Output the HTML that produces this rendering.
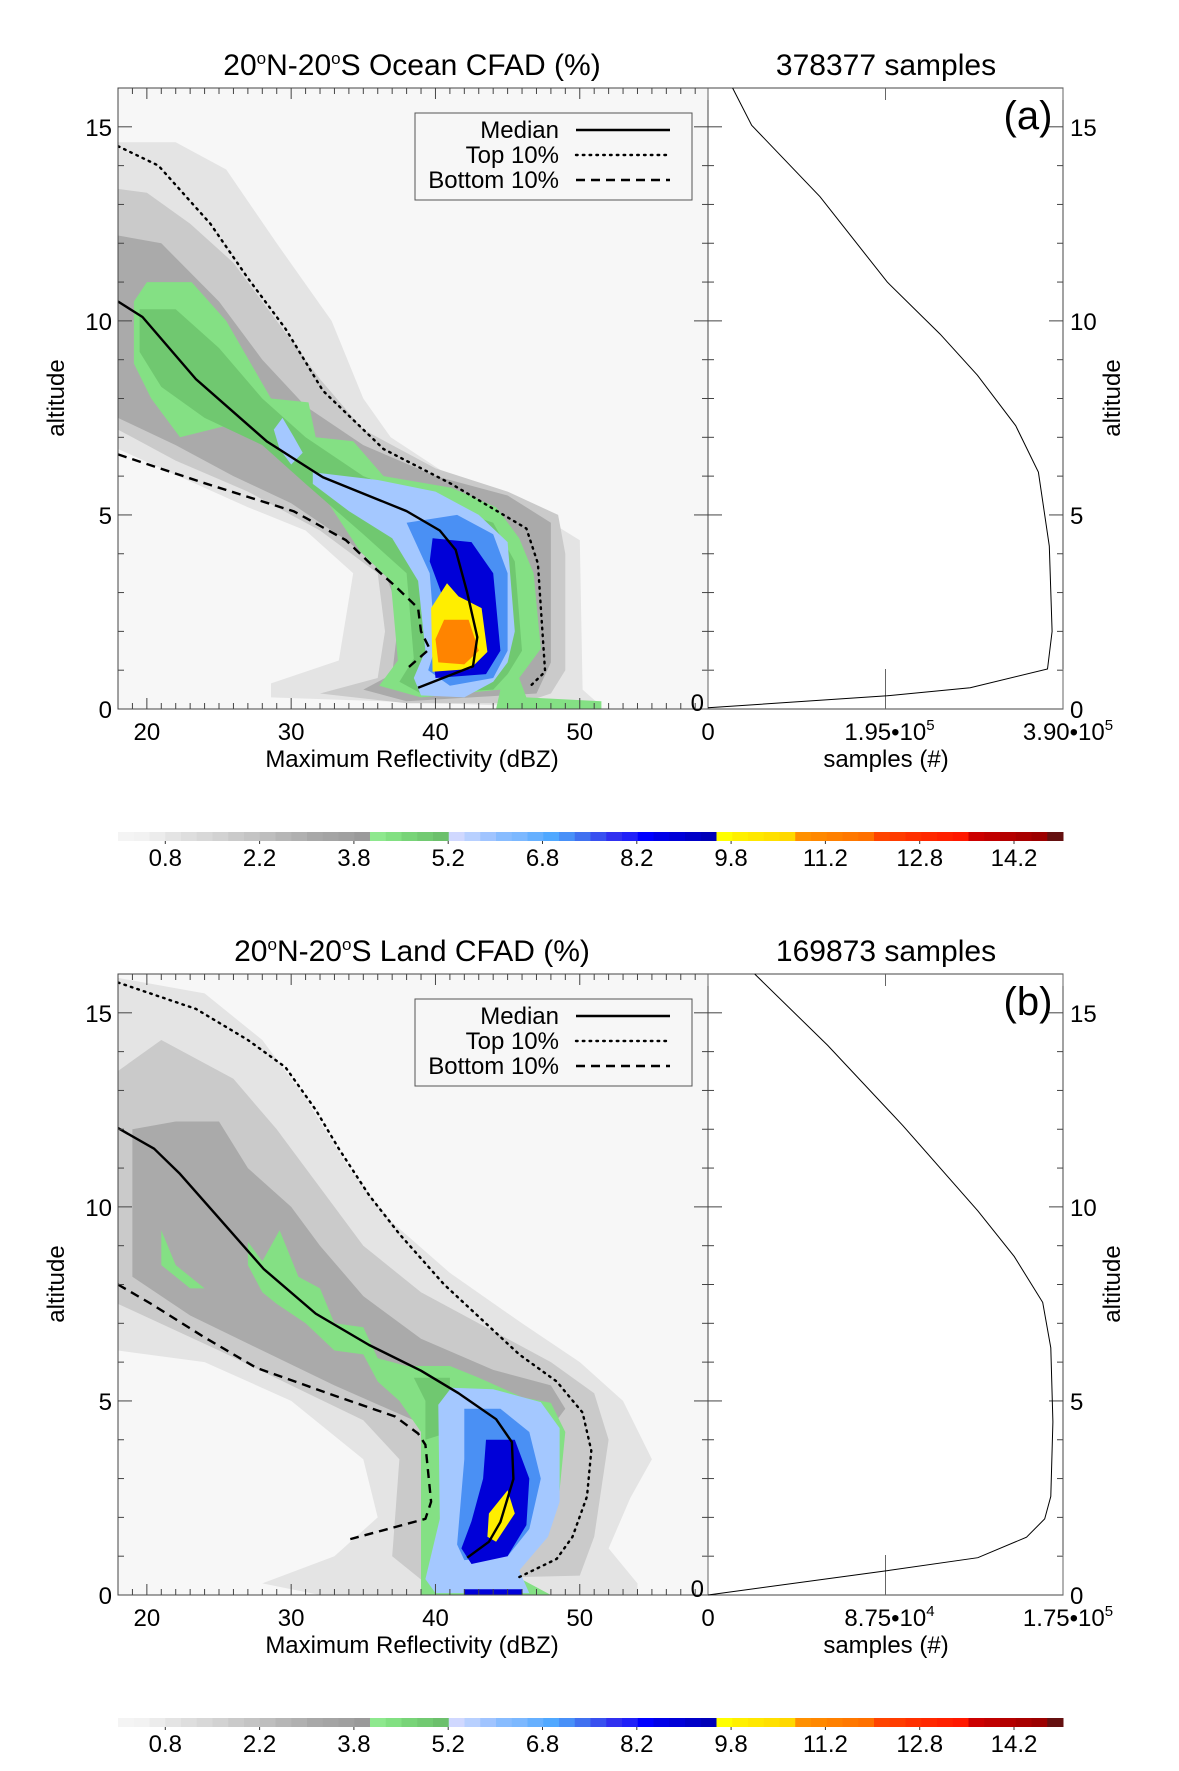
<!DOCTYPE html>
<html><head><meta charset="utf-8">
<style>
html,body{margin:0;padding:0;background:#fff;}
svg{display:block;font-family:"Liberation Sans",sans-serif;}
</style></head>
<body>
<svg id="fig" width="1179" height="1771" viewBox="0 0 1179 1771" xmlns="http://www.w3.org/2000/svg"></svg>
<script>
// ---------- data ----------
const xTicks=[20,30,40,50];
const yTicks=[0,5,10,15];
const cbLabels=["0.8","2.2","3.8","5.2","6.8","8.2","9.8","11.2","12.8","14.2"];
const cbColors=["#f4f4f4","#f2f2f2","#ececec","#e4e4e4","#dedede","#d8d8d8","#d2d2d2","#cacaca","#c4c4c4","#bebebe","#b6b6b6","#b0b0b0","#a8a8a8","#a4a4a4","#a0a0a0","#9a9a9a",
"#8ee88e","#82e082","#78d478","#72ca72","#6cc06c",
"#d0d8ff","#b8d0ff","#a0c4ff","#88bcff","#7cb8ff","#66b0ff","#50a8ff","#4890f8","#4070f0","#3850f0","#3030f0","#2020f8","#0000ff","#0000e8","#0000d8","#0000c8","#0000b8",
"#ffff00","#fff000","#ffe800","#ffe000","#ffd800",
"#ff9000","#ff8800","#ff8000","#ff7800","#ff7000",
"#ff4400","#ff3c00","#ff3000","#ff2800","#ff2000","#ff1800",
"#cc0000","#c00000","#b40000","#a80000","#9c0000","#641010"];

// Panel (a) ocean
const aTitle="Ocean", aSamples="378377", aMax=3.90e5, aMid="1.95", aMaxLbl="3.90", aExp="5", aMidExp="5";
const aG1=[[18,14.6],[22,14.6],[25.5,13.9],[29,12],[32.8,10],[35,8],[36.9,7.0],[41,6.0],[46.3,5.2],[50,4.35],[50.2,0.5],[51.5,0.07],[51.5,0],[28.6,0.3],[28.6,0.66],[33.3,1.25],[34.3,3.5],[31,4.6],[27,5.2],[18,6.7]];
const aG2=[[18,13.4],[20,13.3],[23,12.5],[26,11.5],[29,10],[32,8.5],[35,7.2],[40,6.2],[45,5.6],[48.5,5],[49,4],[49,1],[48,0.4],[46,0.15],[38,0.15],[32,0.4],[36,0.8],[36.5,2],[36,3.5],[32,4.6],[27,5.6],[22,6.4],[18,7.2]];
const aG3=[[18,12.2],[21,12],[25,10.5],[28,9],[31,7.8],[35,6.8],[40,6.0],[45,5.5],[48,4.8],[48,1.2],[47,0.4],[38,0.2],[35,0.5],[37,0.9],[37.5,2.5],[36.5,3.5],[34,4.3],[30,5.3],[26,6.0],[22,6.8],[18,7.5]];
const aGreen=[[19.1,10.5],[20,11],[23.1,11],[25.5,10],[28.6,8.0],[31.2,7.9],[31.7,7.0],[34.3,6.9],[36.4,6.0],[41.1,5.7],[44.2,5.2],[45.8,4.4],[46.8,3.5],[47.3,1.55],[45.8,0.8],[46.3,0.3],[51.5,0.2],[51.5,0],[44.2,0],[44.5,0.5],[39,0.3],[36.1,0.6],[37.4,1.25],[36.9,3.3],[34.8,4.05],[31.7,5.8],[29.1,6.6],[25.5,7.3],[22.3,7.0],[20.3,8.0],[19.1,8.9]];
const aGreen2=[[19.5,10.3],[22,10.3],[25,9.3],[28,8],[31,7],[35,6],[40,5.3],[44,4.8],[45.5,3.8],[46,1.5],[45,0.9],[44,0.5],[39,0.4],[37.5,0.7],[38.5,1.3],[38,3.5],[35,4.5],[31,5.8],[28,6.8],[24,7.5],[21,8.3],[19.5,9.2]];
const aLBlue=[[31.5,6.1],[36,5.9],[40,5.6],[43,5.0],[45,4.3],[45.5,2],[45,1.2],[44,0.7],[42,0.3],[39,0.35],[38.5,0.8],[39.3,1.5],[38.8,3.3],[37,4.4],[34,5.1],[31.5,5.8]];
const aLBlue2=[[28.8,7.2],[29.4,7.5],[30.2,7.0],[30.8,6.6],[30,6.3],[29.2,6.7]];
const aMBlue=[[38,4.8],[41.5,5.0],[44,4.5],[45,3.5],[45,1.5],[44,0.8],[41,0.6],[39.5,1],[40,1.6],[39.6,3.5]];
const aDBlue=[[39.8,4.4],[42.5,4.3],[44,3.5],[44.5,1.5],[43.5,0.9],[40,0.8],[39.8,1.5],[40.4,3.0],[39.6,3.8]];
const aYellow=[[40.8,3.24],[41.6,2.9],[43.2,2.6],[43.6,1.47],[42.4,1.03],[39.8,0.96],[39.7,2.6]];
const aOrange=[[40.6,2.3],[42.3,2.3],[43,1.5],[42,1.15],[40.2,1.2],[40,1.8]];
const aMedian=[[18,10.5],[19.7,10.1],[23.4,8.5],[28.3,6.9],[32.2,5.97],[38,5.1],[40.3,4.6],[41.4,4.1],[42.2,3.0],[42.9,1.85],[42.6,1.1],[38.8,0.55]];
const aTop=[[18,14.5],[20.8,14],[24.4,12.5],[27,11.1],[29.6,9.8],[32.2,8.2],[36.4,6.7],[41.1,5.8],[46.3,4.65],[47.1,3.75],[47.6,0.96],[46.6,0.6]];
const aBot=[[18,6.56],[23.9,5.83],[30.2,5.09],[33.8,4.35],[35.9,3.6],[37.2,3.17],[38.8,2.6],[39,2],[39.6,1.55],[38,1.03]];
const aProfX=[0.27e5,0.48e5,1.23e5,1.97e5,2.55e5,2.96e5,3.38e5,3.63e5,3.75e5,3.78e5,3.73e5,2.88e5,1.97e5,0];
const aProfY=[16,15.04,13.2,11,9.66,8.6,7.3,6.1,4.2,2,1.03,0.55,0.34,0.03];

// Panel (b) land
const bTitle="Land", bSamples="169873", bMax=1.75e5, bMid="8.75", bMaxLbl="1.75", bExp="5", bMidExp="4";
const bG1=[[18,15.9],[24,15.5],[28,14.3],[31,12.8],[34,11],[37,9.6],[41,8.3],[46,7],[50,6],[53,5],[55,3.5],[53.5,2.5],[52,1.2],[54,0.3],[54,0],[32,0],[28,0.3],[33,1],[36,2],[35,3.5],[30,5],[24,6],[18,6.3]];
const bG2=[[18,13.5],[21,14.3],[26,13.3],[29,12],[32,10.5],[35,9],[39,7.8],[44,6.8],[48,6],[51,5.2],[52,4],[51,1.5],[50,0.5],[39,0.4],[37,1],[37.5,3.5],[35,4.5],[30,5.4],[25,6.3],[18,7.5]];
const bG3=[[19,12.0],[22,12.2],[25,12.2],[27,11],[30,10],[32,9],[35,7.7],[39,6.6],[44,5.8],[48,5.4],[49,4.8],[48,4.3],[38.5,4.5],[33,5.4],[28,6.3],[23,7.2],[19,8.2]];
const bGreen=[[27,9.1],[28,8.6],[29.2,9.4],[30.5,8.2],[32,7.9],[33,7],[35,6.9],[36,6.1],[38,5.9],[41,5.9],[43,5.6],[46,5.1],[48,4.95],[49,4.2],[48.5,2.3],[47.5,1.5],[45.5,0.5],[47,0.2],[48,0],[39,0],[39,0.2],[39,4.2],[37.5,5.0],[36,5.5],[35,6.2],[33,6.3],[31,7.0],[29,7.5],[28,7.8],[27,8.5]];
const bGreenB=[[21,9.4],[22,8.5],[24,7.9],[23,7.9],[21,8.5]];
const bGreen2=[[38.5,5.6],[41,5.6],[41,4.2],[39.3,4.0],[39.3,5.0]];
const bLBlue=[[41.1,5.34],[44,5.3],[47.3,4.97],[48.6,4.3],[48.6,2.4],[47.8,1.5],[45.8,0.63],[46.5,0.05],[40,0.05],[39.3,0.41],[40.3,1.96],[40.2,4.9]];
const bMBlue=[[42,4.8],[44.5,4.8],[46.5,4.2],[47.3,3],[46.5,1.7],[45,1.0],[42,0.9],[41.5,1.3],[42,3.5]];
const bDBlue=[[43.5,4.0],[45.5,4.0],[46.5,3.0],[46.3,1.8],[45,1.0],[42.5,0.8],[41.8,1.2],[42.5,1.9],[43.3,3.0]];
const bDBlue2=[[42,0.15],[46,0.15],[46,0],[42,0]];
const bYellow=[[43.7,2.1],[45,2.7],[45.5,2.1],[44.2,1.37],[43.6,1.5]];
const bMedian=[[18,12.03],[20.5,11.5],[22.3,10.85],[24.9,9.75],[28.1,8.4],[31.7,7.25],[35.4,6.44],[39,5.78],[41.6,5.2],[44.2,4.53],[45.3,3.94],[45.4,2.99],[44.5,1.88],[43.7,1.37],[42.2,0.96]];
const bTop=[[18,15.78],[23.4,15.1],[27,14.3],[29.6,13.6],[31.7,12.5],[33.3,11.5],[35.4,10.3],[37.5,9.3],[40.6,8],[43.2,7.1],[45.8,6.2],[48.4,5.5],[50.2,4.7],[50.8,3.72],[50.5,2.54],[49.5,1.5],[48.4,0.93],[45.8,0.46]];
const bBot=[[18,8.0],[20.3,7.5],[23.9,6.66],[27.6,5.85],[33.3,5.1],[37.2,4.6],[38.8,4.16],[39.3,3.87],[39.7,2.4],[39.3,1.96],[34.1,1.44]];
const bProfX=[0.23e5,0.59e5,0.96e5,1.33e5,1.51e5,1.65e5,1.69e5,1.70e5,1.69e5,1.66e5,1.57e5,1.33e5,0.89e5,0];
const bProfY=[16,14.16,12.1,9.9,8.72,7.54,6.37,4.46,2.54,1.96,1.49,0.96,0.63,0];

// ---------- drawing ----------
const NS="http://www.w3.org/2000/svg";
const svg=document.getElementById('fig');
function mk(tag,attrs,parent,text){const e=document.createElementNS(NS,tag);for(const k in attrs)e.setAttribute(k,attrs[k]);if(text!==undefined)e.textContent=text;(parent||svg).appendChild(e);return e;}
const L=118,M=708,R=1063,H=621;
const FS=24;
function xs(v){return L+(v-18)*14.43;}
function ysF(oy){return v=>oy+H-v*H/16;}

function panel(key,oy,d){
  const ys=ysF(oy);
  const g=mk('g',{});
  
  
  const bg=mk('rect',{x:L,y:oy,width:M-L,height:H,fill:'#f7f7f7'},g);
  
  
  const cl='clip'+key;
  const cp=mk('clipPath',{id:cl},g);mk('rect',{x:L,y:oy,width:M-L,height:H},cp);
  const cg=mk('g',{'clip-path':'url(#'+cl+')'},g);
  d.regions.forEach(([pts,col,nm])=>{
    const p=mk('polygon',{points:pts.map(q=>xs(q[0]).toFixed(1)+','+ys(q[1]).toFixed(1)).join(' '),fill:col},cg);
    
    
  });
  const lines=[[d.median,'','median-line'],[d.top,'1.6 5.2','top-10-line'],[d.bot,'9 6','bottom-10-line']];
  lines.forEach(([pts,da,nm])=>{
    const a={points:pts.map(q=>xs(q[0]).toFixed(1)+','+ys(q[1]).toFixed(1)).join(' '),fill:'none',stroke:'#000','stroke-width':2.4,'stroke-linejoin':'round'};
    if(da){a['stroke-dasharray']=da;if(da[0]==='1')a['stroke-linecap']='round';}
    const p=mk('polyline',a,cg);
    
    
  });
  mk('rect',{x:L,y:oy,width:R-L,height:H,fill:'none',stroke:'#444','stroke-width':1},g);
  mk('line',{x1:M,y1:oy,x2:M,y2:oy+H,stroke:'#444','stroke-width':1},g);
  for(let v=18;v<=58;v++){const x=xs(v);const len=(v%10===0)?11:6;
    mk('line',{x1:x,y1:oy+H,x2:x,y2:oy+H-len,stroke:'#444'},g);mk('line',{x1:x,y1:oy,x2:x,y2:oy+len,stroke:'#444'},g);}
  xTicks.forEach(v=>{const t=mk('text',{x:xs(v),y:oy+H+31,'font-size':FS,'text-anchor':'middle'},g,String(v));
    });
  for(let v=0;v<=16;v++){const y=ys(v);const len=(v%5===0)?14:6;
    mk('line',{x1:L,y1:y,x2:L+len,y2:y,stroke:'#444'},g);mk('line',{x1:M,y1:y,x2:M-len,y2:y,stroke:'#444'},g);
    mk('line',{x1:M,y1:y,x2:M+len,y2:y,stroke:'#444'},g);mk('line',{x1:R,y1:y,x2:R-len,y2:y,stroke:'#444'},g);}
  yTicks.forEach(v=>{const t=mk('text',{x:L-6,y:ys(v)+9,'font-size':FS,'text-anchor':'end'},g,String(v));
    
    const t2=mk('text',{x:R+7,y:ys(v)+9,'font-size':FS},g,String(v));
    });
  mk('text',{x:M-4,y:ys(0)+2,'font-size':FS,'text-anchor':'end'},g,'0');
  const px=v=>M+(v/d.max)*(R-M);
  [0,d.max/2,d.max].forEach(v=>{mk('line',{x1:px(v),y1:oy+H,x2:px(v),y2:oy+H-40,stroke:'#666'},g);mk('line',{x1:px(v),y1:oy,x2:px(v),y2:oy+12,stroke:'#666'},g);});
  mk('text',{x:M,y:oy+H+31,'font-size':FS,'text-anchor':'middle'},g,'0');
  const t1=mk('text',{x:px(d.max/2)+4,y:oy+H+31,'font-size':FS,'text-anchor':'middle'},g);
  t1.innerHTML=d.mid+'•10<tspan dy="-10" font-size="15">'+d.midExp+'</tspan>';
  
  const t3=mk('text',{x:R+5,y:oy+H+31,'font-size':FS,'text-anchor':'middle'},g);
  t3.innerHTML=d.maxLbl+'•10<tspan dy="-10" font-size="15">'+d.exp+'</tspan>';
  
  const prof=mk('polyline',{points:d.px.map((v,i)=>px(v).toFixed(1)+','+ys(d.py[i]).toFixed(1)).join(' '),fill:'none',stroke:'#000','stroke-width':1},g);
  
  
  const xl=mk('text',{x:412,y:oy+H+58,'font-size':FS,'text-anchor':'middle'},g,'Maximum Reflectivity (dBZ)');
  
  const sl=mk('text',{x:886,y:oy+H+58,'font-size':FS,'text-anchor':'middle'},g,'samples (#)');
  
  const al=mk('text',{x:0,y:0,'font-size':FS,'text-anchor':'middle',transform:'translate(64,'+(oy+310)+') rotate(-90)'},g,'altitude');
  
  const ar=mk('text',{x:0,y:0,'font-size':FS,'text-anchor':'middle',transform:'translate(1120,'+(oy+310)+') rotate(-90)'},g,'altitude');
  
  const tt=mk('text',{x:412,y:oy-13,'font-size':30,'text-anchor':'middle'},g);
  tt.innerHTML='20<tspan dy="-11" font-size="17">o</tspan><tspan dy="11">N-20</tspan><tspan dy="-11" font-size="17">o</tspan><tspan dy="11">S '+d.title+' CFAD (%)</tspan>';
  
  const st=mk('text',{x:886,y:oy-13,'font-size':30,'text-anchor':'middle'},g,d.samples+' samples');
  
  const pl=mk('text',{x:1028,y:oy+41,'font-size':40,'text-anchor':'middle'},g,'('+key+')');
  
  const lg=mk('g',{},g);
  
  
  mk('rect',{x:415,y:oy+25,width:277,height:87,fill:'#f7f7f7',stroke:'#555','stroke-width':1},lg);
  [['Median',''],['Top 10%','1.6 5.2'],['Bottom 10%','9 6']].forEach(([n,da],i)=>{
    const y=oy+42+i*25;
    const e=mk('text',{x:559,y:y+8,'font-size':FS,'text-anchor':'end'},lg,n);
    
    const a={x1:576,y1:y,x2:670,y2:y,stroke:'#000','stroke-width':2.4};
    if(da){a['stroke-dasharray']=da;if(da[0]==='1')a['stroke-linecap']='round';}
    mk('line',a,lg);
  });
  const cb=mk('g',{},g);
  
  
  const cy=oy+744, cw=(R-L)/cbColors.length;
  cbColors.forEach((c,i)=>{mk('rect',{x:L+i*cw,y:cy,width:cw+0.5,height:9,fill:c},cb);});
  cbLabels.forEach((s,i)=>{const x=165.3+i*94.3;
    mk('line',{x1:x,y1:cy+9,x2:x,y2:cy+12,stroke:'#333'},cb);
    const t=mk('text',{x:x,y:cy+34,'font-size':FS,'text-anchor':'middle'},cb,s);
    });
}
panel('a',88,{title:aTitle,samples:aSamples,max:aMax,mid:aMid,midExp:aMidExp,maxLbl:aMaxLbl,exp:aExp,
  regions:[[aG1,'#e4e4e4','gray-low'],[aG2,'#cacaca','gray-mid'],[aG3,'#aaaaaa','gray-high'],[aGreen,'#84e084','green-region'],[aGreen2,'#70c870','green-core'],[aLBlue,'#a4c8ff','light-blue-region'],[aLBlue2,'#a4c8ff','light-blue-blob'],[aMBlue,'#4a90f4','mid-blue-region'],[aDBlue,'#0000d8','dark-blue-region'],[aYellow,'#ffee00','yellow-region'],[aOrange,'#ff8400','orange-region']],
  median:aMedian,top:aTop,bot:aBot,px:aProfX,py:aProfY});
panel('b',974,{title:bTitle,samples:bSamples,max:bMax,mid:bMid,midExp:bMidExp,maxLbl:bMaxLbl,exp:bExp,
  regions:[[bG1,'#e4e4e4','gray-low'],[bG2,'#cacaca','gray-mid'],[bG3,'#aaaaaa','gray-high'],[bGreen,'#84e084','green-region'],[bGreenB,'#84e084','green-patch'],[bGreen2,'#70c870','green-core'],[bLBlue,'#a4c8ff','light-blue-region'],[bMBlue,'#4a90f4','mid-blue-region'],[bDBlue,'#0000d8','dark-blue-region'],[bDBlue2,'#0000d8','dark-blue-base'],[bYellow,'#ffee00','yellow-region']],
  median:bMedian,top:bTop,bot:bBot,px:bProfX,py:bProfY});
</script>
</body></html>
